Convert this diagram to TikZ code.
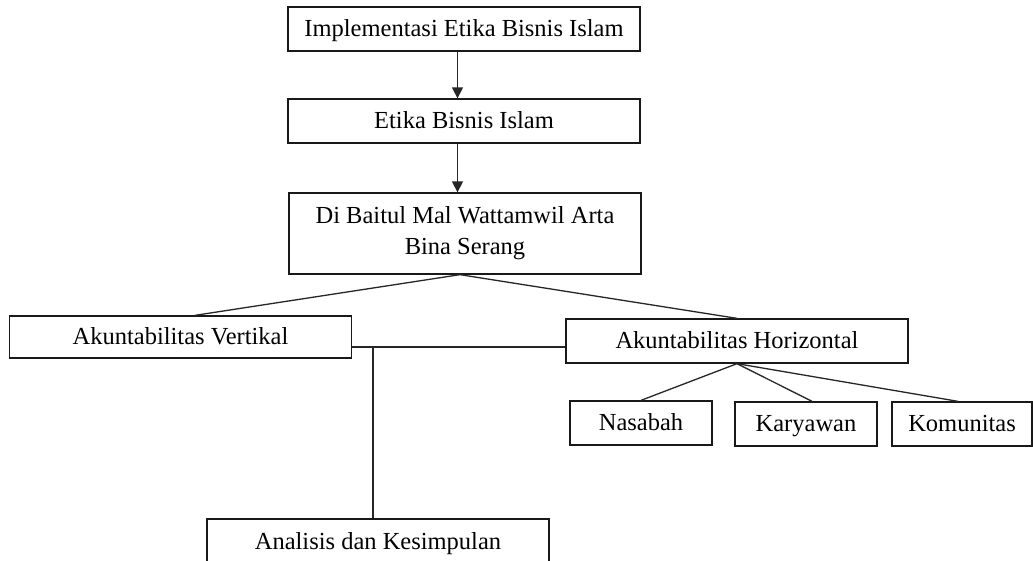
\documentclass[tikz,border=0pt]{standalone}
\usepackage{fontspec}
\setmainfont{Liberation Serif}
\usetikzlibrary{arrows.meta}
\begin{document}
\begin{tikzpicture}[x=1pt,y=-1pt,
  box/.style={draw=black!90, line width=1.3pt, rectangle, inner sep=0pt, align=center,
    font=\fontsize{24.5}{31}\selectfont},
  onel/.style={text height=20pt, text depth=4.5pt},
  conn/.style={draw=black!85, line width=1.3pt},
  arr/.style={conn, -{Triangle[length=11pt,width=11pt]}}]
\useasboundingbox (0,0) rectangle (1033,560);
\clip (0,0) rectangle (1033,560);
\fill[white] (0,0) rectangle (1033,560);

\node[box, onel, minimum width=352pt, minimum height=44pt] (impl) at (464,29) {Implementasi Etika Bisnis Islam};
\node[box, onel, minimum width=352pt, minimum height=44pt] (etika) at (464,121) {Etika Bisnis Islam};
\node[box, minimum width=352pt, minimum height=81pt] (bmt) at (465,233.5) {Di Baitul Mal Wattamwil Arta\\Bina Serang};
\node[box, onel, minimum width=342pt, minimum height=42pt] (vert) at (180.5,337) {Akuntabilitas Vertikal};
\node[box, onel, minimum width=342pt, minimum height=44pt] (hor) at (737,341) {Akuntabilitas Horizontal};
\node[box, onel, minimum width=142pt, minimum height=44pt] (nas) at (641,423) {Nasabah};
\node[box, onel, minimum width=142pt, minimum height=44pt] (kar) at (806,424) {Karyawan};
\node[box, onel, minimum width=140pt, minimum height=44pt] (kom) at (962,424) {Komunitas};
\node[box, onel, minimum width=342pt, minimum height=46pt] (an) at (378,542) {Analisis dan Kesimpulan};

\coordinate (ax) at (457.5,0);
\draw[arr] (impl.south -| ax) -- (etika.north -| ax);
\draw[arr] (etika.south -| ax) -- (bmt.north -| ax);

\coordinate (apex) at ([xshift=-5pt]bmt.south);
\draw[conn] (apex) -- ([xshift=14.5pt]vert.north);
\draw[conn] (apex) -- (hor.north);

\draw[conn] (hor.south) -- (nas.north);
\draw[conn] (hor.south) -- ([xshift=6pt]kar.north);
\draw[conn] (hor.south) -- ([xshift=-4pt]kom.north);

\coordinate (j) at (373,347);
\draw[conn] (vert.east |- j) -- (hor.west |- j);
\draw[conn] (j) -- (an.north -| j);
\end{tikzpicture}
\end{document}
